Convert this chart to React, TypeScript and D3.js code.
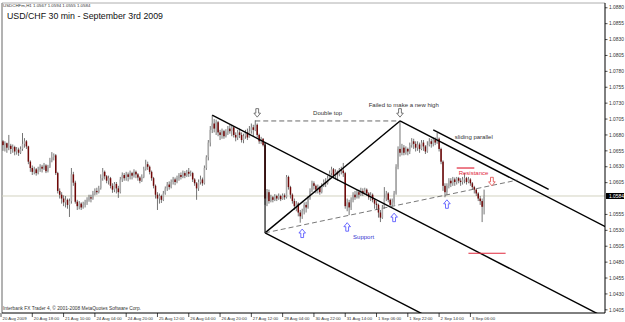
import React from 'react';
import * as d3 from 'd3';

const W = 625;
const H = 322;
const PL = 2, PT = 3, PR = 605, PB = 313;

// ---- data (H1 bars, O = previous close) ----
const firstOpen = 1.0662;
const closes = [
  1.0670,1.0664,1.0667,1.0660,1.0663,1.0658,1.0661,1.0654,1.0657,1.0652,
  1.0658,1.0666,1.0670,1.0662,1.0638,1.0628,1.0622,1.0626,1.0620,1.0625,
  1.0630,1.0627,1.0632,1.0623,1.0630,1.0640,1.0645,1.0648,1.0620,1.0592,
  1.0586,1.0580,1.0574,1.0578,1.0570,1.0576,1.0618,1.0605,1.0575,1.0568,
  1.0572,1.0566,1.0570,1.0574,1.0578,1.0582,1.0580,1.0588,1.0592,1.0590,
  1.0596,1.0612,1.0622,1.0615,1.0608,1.0612,1.0600,1.0594,1.0603,1.0596,
  1.0590,1.0610,1.0617,1.0612,1.0618,1.0614,1.0620,1.0616,1.0622,1.0618,
  1.0613,1.0608,1.0614,1.0626,1.0634,1.0630,1.0622,1.0612,1.0600,1.0586,
  1.0580,1.0584,1.0578,1.0588,1.0596,1.0602,1.0598,1.0606,1.0610,1.0606,
  1.0612,1.0617,1.0614,1.0620,1.0616,1.0622,1.0619,1.0620,1.0610,1.0604,
  1.0596,1.0606,1.0610,1.0604,1.0628,1.0645,1.0668,1.0688,1.0698,1.0690,
  1.0700,1.0684,1.0680,1.0686,1.0678,1.0684,1.0690,1.0686,1.0692,1.0680,
  1.0676,1.0684,1.0680,1.0672,1.0678,1.0684,1.0676,1.0686,1.0692,1.0688,
  1.0696,1.0680,1.0670,1.0674,1.0664,1.0580,1.0590,1.0576,1.0582,1.0578,
  1.0584,1.0580,1.0584,1.0579,1.0585,1.0582,1.0614,1.0598,1.0586,1.0576,
  1.0568,1.0572,1.0558,1.0552,1.0560,1.0570,1.0566,1.0580,1.0592,1.0604,
  1.0600,1.0594,1.0598,1.0590,1.0600,1.0606,1.0604,1.0612,1.0620,1.0626,
  1.0616,1.0622,1.0618,1.0626,1.0624,1.0620,1.0568,1.0574,1.0566,1.0578,
  1.0586,1.0582,1.0590,1.0586,1.0592,1.0588,1.0594,1.0588,1.0582,1.0586,
  1.0578,1.0572,1.0570,1.0558,1.0550,1.0566,1.0580,1.0588,1.0578,1.0570,
  1.0574,1.0588,1.0630,1.0658,1.0652,1.0660,1.0652,1.0658,1.0654,1.0664,
  1.0670,1.0666,1.0660,1.0665,1.0658,1.0668,1.0662,1.0654,1.0664,1.0670,
  1.0666,1.0672,1.0668,1.0674,1.0658,1.0638,1.0600,1.0590,1.0600,1.0608,
  1.0604,1.0610,1.0606,1.0612,1.0608,1.0606,1.0610,1.0612,1.0606,1.0610,
  1.0604,1.0598,1.0594,1.0588,1.0580,1.0576,1.0567,1.0584,
];
const highs = [
  1.0676,1.0672,1.0670,1.0668,1.0680,1.0666,1.0665,1.0663,1.0661,1.0660,
  1.0662,1.0683,1.0675,1.0672,1.0663,1.0640,1.0632,1.0630,1.0628,1.0630,
  1.0634,1.0633,1.0636,1.0634,1.0633,1.0644,1.0653,1.0651,1.0650,1.0622,
  1.0596,1.0590,1.0585,1.0584,1.0580,1.0580,1.0628,1.0622,1.0608,1.0578,
  1.0576,1.0574,1.0575,1.0578,1.0582,1.0586,1.0586,1.0592,1.0596,1.0597,
  1.0600,1.0618,1.0628,1.0624,1.0617,1.0616,1.0614,1.0604,1.0606,1.0606,
  1.0600,1.0614,1.0621,1.0620,1.0622,1.0621,1.0624,1.0622,1.0626,1.0624,
  1.0620,1.0615,1.0618,1.0630,1.0641,1.0638,1.0632,1.0624,1.0614,1.0602,
  1.0590,1.0588,1.0586,1.0592,1.0599,1.0606,1.0607,1.0610,1.0614,1.0613,
  1.0616,1.0620,1.0621,1.0624,1.0623,1.0625,1.0628,1.0624,1.0622,1.0612,
  1.0606,1.0610,1.0616,1.0613,1.0632,1.0648,1.0672,1.0694,1.0711,1.0705,
  1.0704,1.0702,1.0688,1.0690,1.0688,1.0689,1.0694,1.0696,1.0696,1.0694,
  1.0684,1.0688,1.0690,1.0684,1.0682,1.0688,1.0690,1.0694,1.0698,1.0696,
  1.0703,1.0698,1.0682,1.0677,1.0675,1.0666,1.0595,1.0594,1.0586,1.0584,
  1.0587,1.0586,1.0588,1.0586,1.0588,1.0588,1.0617,1.0616,1.0600,1.0588,
  1.0580,1.0576,1.0574,1.0562,1.0564,1.0574,1.0575,1.0584,1.0596,1.0608,
  1.0607,1.0602,1.0602,1.0600,1.0604,1.0610,1.0612,1.0616,1.0624,1.0630,
  1.0628,1.0626,1.0624,1.0628,1.0630,1.0636,1.0622,1.0580,1.0578,1.0582,
  1.0590,1.0592,1.0594,1.0594,1.0597,1.0596,1.0597,1.0596,1.0590,1.0590,
  1.0588,1.0580,1.0576,1.0572,1.0562,1.0570,1.0598,1.0592,1.0590,1.0580,
  1.0580,1.0592,1.0634,1.0662,1.0702,1.0666,1.0664,1.0662,1.0660,1.0668,
  1.0675,1.0674,1.0670,1.0670,1.0668,1.0672,1.0672,1.0664,1.0670,1.0675,
  1.0674,1.0676,1.0676,1.0683,1.0676,1.0660,1.0640,1.0604,1.0604,1.0612,
  1.0612,1.0614,1.0613,1.0614,1.0614,1.0612,1.0614,1.0620,1.0614,1.0614,
  1.0612,1.0606,1.0600,1.0596,1.0590,1.0584,1.0580,1.0594,
];
const lows = [
  1.0658,1.0655,1.0654,1.0652,1.0656,1.0650,1.0652,1.0648,1.0649,1.0647,
  1.0650,1.0655,1.0660,1.0658,1.0634,1.0622,1.0617,1.0618,1.0616,1.0618,
  1.0622,1.0621,1.0625,1.0620,1.0621,1.0628,1.0637,1.0640,1.0617,1.0588,
  1.0580,1.0572,1.0568,1.0566,1.0564,1.0551,1.0572,1.0600,1.0572,1.0562,
  1.0563,1.0562,1.0564,1.0566,1.0570,1.0575,1.0574,1.0578,1.0585,1.0586,
  1.0588,1.0594,1.0608,1.0610,1.0604,1.0602,1.0596,1.0589,1.0590,1.0588,
  1.0581,1.0588,1.0606,1.0608,1.0608,1.0607,1.0610,1.0610,1.0613,1.0612,
  1.0608,1.0604,1.0606,1.0612,1.0624,1.0625,1.0618,1.0608,1.0596,1.0580,
  1.0562,1.0572,1.0573,1.0576,1.0586,1.0592,1.0594,1.0596,1.0602,1.0601,
  1.0604,1.0608,1.0610,1.0612,1.0612,1.0614,1.0614,1.0615,1.0606,1.0600,
  1.0578,1.0592,1.0602,1.0600,1.0602,1.0625,1.0640,1.0662,1.0683,1.0684,
  1.0680,1.0678,1.0672,1.0674,1.0674,1.0676,1.0680,1.0682,1.0678,1.0676,
  1.0670,1.0672,1.0675,1.0668,1.0667,1.0674,1.0672,1.0676,1.0682,1.0678,
  1.0686,1.0676,1.0666,1.0666,1.0662,1.0570,1.0568,1.0572,1.0574,1.0574,
  1.0576,1.0576,1.0578,1.0576,1.0578,1.0578,1.0580,1.0594,1.0580,1.0572,
  1.0562,1.0560,1.0552,1.0542,1.0548,1.0555,1.0558,1.0564,1.0578,1.0590,
  1.0594,1.0588,1.0588,1.0586,1.0588,1.0598,1.0598,1.0602,1.0610,1.0616,
  1.0612,1.0610,1.0608,1.0615,1.0618,1.0614,1.0564,1.0560,1.0554,1.0562,
  1.0574,1.0578,1.0580,1.0580,1.0584,1.0584,1.0586,1.0584,1.0578,1.0576,
  1.0574,1.0564,1.0562,1.0550,1.0543,1.0548,1.0564,1.0576,1.0574,1.0566,
  1.0568,1.0570,1.0586,1.0626,1.0646,1.0648,1.0648,1.0649,1.0648,1.0650,
  1.0660,1.0658,1.0654,1.0655,1.0652,1.0656,1.0655,1.0650,1.0652,1.0662,
  1.0660,1.0662,1.0664,1.0666,1.0654,1.0634,1.0592,1.0582,1.0586,1.0596,
  1.0598,1.0600,1.0600,1.0602,1.0604,1.0600,1.0602,1.0604,1.0602,1.0604,
  1.0600,1.0594,1.0588,1.0584,1.0576,1.0570,1.0543,1.0555,
];
const lastPrice = 1.0584;

const timeLabels = [
  '20 Aug 2009','20 Aug 18:00','21 Aug 10:00','24 Aug 04:00','24 Aug 20:00','25 Aug 12:00',
  '26 Aug 04:00','26 Aug 20:00','27 Aug 12:00','28 Aug 04:00','30 Aug 22:00','31 Aug 14:00',
  '1 Sep 06:00','1 Sep 22:00','2 Sep 14:00','3 Sep 06:00',
];
const timeLabelBars = [0,16,32,48,64,80,96,112,128,144,160,176,192,208,224,240];
const priceTicks = [
  1.0880,1.0855,1.0830,1.0805,1.0780,1.0755,1.0730,1.0705,1.0680,1.0655,
  1.0630,1.0605,1.0555,1.0530,1.0505,1.0480,1.0455,1.0430,1.0405,
];

// ---- annotations in (bar, price) ----
const pitchHandle = [135, 1.0526];
const pitchTop = [108, 1.0711];
const pitchFailed = [204, 1.0702];
const channelSlope = -0.0001584; // price per bar
const slidingStart = [221, 1.0688];
const slidingEndBar = 280;
const supportEnd = [264, 1.0609];
const doubleTopStartBar = 130;
const upArrowBars = [154, 177, 201, 228];
const upArrowPrices = [1.0532, 1.0542, 1.0557, 1.0578];
const downArrowBars = [131, 204];
const downArrowPrice = 1.0708;
const redArrow = [251, 1.0600];
const resistanceLine = [233, 242, 1.0628];
const targetLine = [239, 258, 1.0494];

const FONT = '"Liberation Sans", Arial, sans-serif';

export default function App() {
  const x = d3.scaleLinear().domain([0, 240]).range([1, 470.4]);
  const y = d3.scaleLinear().domain([1.04, 1.08875]).range([PB, PT]);
  const endBar = x.invert(PR) + 20;

  const opens = closes.map((c, i) => (i === 0 ? firstOpen : closes[i - 1]));

  const line = (a: number[], b: number[]) =>
    `M${x(a[0])},${y(a[1])}L${x(b[0])},${y(b[1])}`;
  const extend = (p: number[]) => [endBar, p[1] + channelSlope * (endBar - p[0])];
  const atBar = (p: number[], bar: number) => [bar, p[1] + channelSlope * (bar - p[0])];

  const upArrow = (cx: number, ty: number) =>
    `M${cx},${ty}L${cx + 3.3},${ty + 4}L${cx + 1.4},${ty + 4}L${cx + 1.4},${ty + 8.5}L${cx - 1.4},${ty + 8.5}L${cx - 1.4},${ty + 4}L${cx - 3.3},${ty + 4}Z`;
  const downArrow = (cx: number, by: number) =>
    `M${cx},${by}L${cx + 3.3},${by - 4}L${cx + 1.4},${by - 4}L${cx + 1.4},${by - 8.5}L${cx - 1.4},${by - 8.5}L${cx - 1.4},${by - 4}L${cx - 3.3},${by - 4}Z`;

  const bw = 1.5;

  return (
    <svg width={W} height={H} style={{ position: 'absolute', left: 0, top: 0, background: '#fff' }} fontFamily={FONT}>
      <defs>
        <clipPath id="plot">
          <rect x={PL} y={PT} width={PR - PL} height={PB - PT} />
        </clipPath>
      </defs>
      <rect x={0} y={0} width={W} height={H} fill="#fff" />
      {/* frame */}
      <line x1={PL} y1={PT} x2={PL} y2={PB} stroke="#666" strokeWidth={1} />
      <line x1={PL} y1={PT} x2={PR} y2={PT} stroke="#999" strokeWidth={0.8} />

      {/* current price line */}
      <line x1={PL} x2={PR} y1={y(lastPrice)} y2={y(lastPrice)} stroke="#d2d2c0" strokeWidth={1} />

      {/* candles */}
      <g clipPath="url(#plot)">
        {closes.map((c, i) => {
          const o = opens[i];
          const cx = x(i);
          const up = c >= o;
          const top = y(Math.max(o, c));
          const bot = y(Math.min(o, c));
          return (
            <g key={i}>
              <line x1={cx} x2={cx} y1={y(highs[i])} y2={y(lows[i])} stroke="#505050" strokeWidth={0.8} />
              <rect x={cx - bw / 2} y={top} width={bw} height={Math.max(0.6, bot - top)}
                fill={up ? '#aaaaaa' : '#700808'} />
            </g>
          );
        })}
      </g>

      {/* pitchfork and lines */}
      <g clipPath="url(#plot)" fill="none">
        <path d={line(pitchTop, extend(pitchTop))} stroke="#000" strokeWidth={1.4} />
        <path d={line(pitchFailed, extend(pitchFailed))} stroke="#000" strokeWidth={1.4} />
        <path d={line(pitchHandle, extend(pitchHandle))} stroke="#000" strokeWidth={1.4} />
        <path d={line(pitchHandle, pitchFailed)} stroke="#000" strokeWidth={1.4} />
        <path d={line(pitchHandle, atBar(pitchTop, pitchHandle[0]))} stroke="#000" strokeWidth={1.1} />
        <path d={line(slidingStart, atBar(slidingStart, slidingEndBar))} stroke="#000" strokeWidth={1.4} />
        <path d={line([doubleTopStartBar, pitchFailed[1]], pitchFailed)} stroke="#444" strokeWidth={0.8} strokeDasharray="5,3" />
        <path d={line(pitchHandle, supportEnd)} stroke="#555" strokeWidth={0.8} strokeDasharray="5,3" />
        <line x1={x(resistanceLine[0])} x2={x(resistanceLine[1])} y1={y(resistanceLine[2])} y2={y(resistanceLine[2])} stroke="#e0283c" strokeWidth={1.2} />
        <line x1={x(targetLine[0])} x2={x(targetLine[1])} y1={y(targetLine[2])} y2={y(targetLine[2])} stroke="#e0283c" strokeWidth={1.2} />
      </g>

      {/* arrows */}
      {upArrowBars.map((b, i) => (
        <path key={'u' + i} d={upArrow(x(b), y(upArrowPrices[i]))} fill="#fff" stroke="#4848ff" strokeWidth={0.8} />
      ))}
      {downArrowBars.map((b, i) => (
        <path key={'d' + i} d={downArrow(x(b), y(downArrowPrice))} fill="#fff" stroke="#555" strokeWidth={0.8} />
      ))}
      <path d={downArrow(x(redArrow[0]), y(redArrow[1]))} fill="#fff" stroke="#e04848" strokeWidth={0.8} />

      {/* annotation texts */}
      <text x={x(167)} y={y(1.0714) + 2} fontSize={6} fill="#333" textAnchor="middle">Double top</text>
      <text x={x(188)} y={y(1.0727) + 2} fontSize={6} fill="#333">Failed to make a new high</text>
      <text x={x(232)} y={y(1.0677) + 2} fontSize={6} fill="#333">sliding parallel</text>
      <text x={x(234)} y={y(1.0620) + 2} fontSize={6} fill="#e0283c">Resistance</text>
      <text x={x(180)} y={y(1.0519) + 2} fontSize={6} fill="#3333d0">Support</text>

      {/* titles */}
      <text x={3} y={7} fontSize={4.4} fill="#333">USDCHFm,H1  1.0567 1.0594 1.0555 1.0584</text>
      <text x={7} y={18.5} fontSize={8.8} fill="#111">USD/CHF 30 min - September 3rd 2009</text>
      <text x={3} y={309.5} fontSize={4.8} fill="#333">Interbank FX Trader 4, © 2001-2008 MetaQuotes Software Corp.</text>

      {/* axes */}
      <line x1={PR} y1={PT} x2={PR} y2={PB} stroke="#000" strokeWidth={1} />
      <line x1={PL} y1={PB} x2={PR} y2={PB} stroke="#000" strokeWidth={1} />
      {priceTicks.map((p) => (
        <g key={p}>
          <line x1={PR} x2={PR + 2.5} y1={y(p)} y2={y(p)} stroke="#000" strokeWidth={0.7} />
          <text x={PR + 4} y={y(p) + 1.7} fontSize={4.9} fill="#333">{p.toFixed(4)}</text>
        </g>
      ))}
      <rect x={PR + 1} y={y(lastPrice) - 3} width={18} height={6} fill="#000" />
      <text x={PR + 4} y={y(lastPrice) + 1.7} fontSize={4.9} fill="#fff">{lastPrice.toFixed(4)}</text>
      {timeLabels.map((t, i) => (
        <g key={t}>
          <line x1={x(timeLabelBars[i])} x2={x(timeLabelBars[i])} y1={PB} y2={PB + 4} stroke="#000" strokeWidth={0.7} />
          <text x={x(timeLabelBars[i]) + 1.5} y={PB + 6.5} fontSize={4.3} fill="#333">{t}</text>
        </g>
      ))}
    </svg>
  );
}
